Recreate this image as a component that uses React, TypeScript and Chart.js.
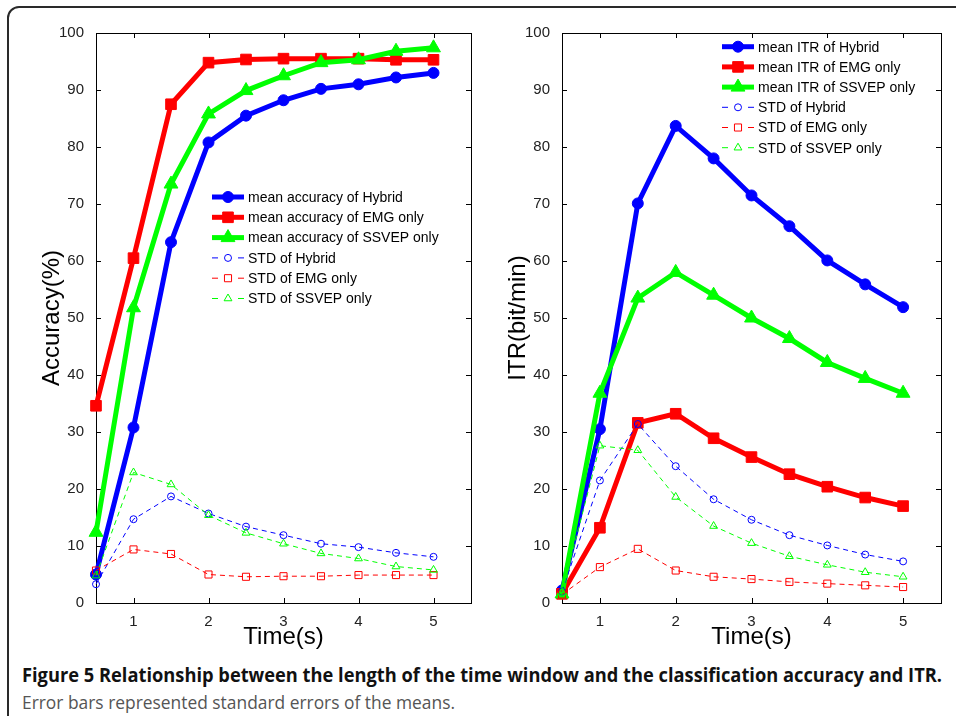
import React, { useEffect, useLayoutEffect, useRef } from 'react';
import { Chart, registerables } from 'chart.js';

Chart.register(...registerables);

// ---------- DATA ----------
const timeWindows = [0.5, 1, 1.5, 2, 2.5, 3, 3.5, 4, 4.5, 5];
const xTickValues = [1, 2, 3, 4, 5];
const yTickValues = [0, 10, 20, 30, 40, 50, 60, 70, 80, 90, 100];

const accHybridMean = [5.0, 30.8, 63.3, 80.8, 85.5, 88.2, 90.2, 91.0, 92.2, 93.0];
const accEmgMean = [34.6, 60.5, 87.5, 94.8, 95.35, 95.5, 95.5, 95.5, 95.3, 95.3];
const accSsvepMean = [12.4, 51.8, 73.5, 85.8, 89.9, 92.5, 94.8, 95.3, 96.8, 97.4];
const accHybridStd = [3.3, 14.7, 18.7, 15.7, 13.4, 11.9, 10.4, 9.8, 8.8, 8.1];
const accEmgStd = [5.7, 9.4, 8.6, 5.0, 4.6, 4.7, 4.7, 4.9, 4.9, 4.9];
const accSsvepStd = [4.8, 22.9, 20.8, 15.4, 12.3, 10.4, 8.7, 7.8, 6.4, 5.8];

const itrHybridMean = [2.2, 30.5, 70.1, 83.7, 78.0, 71.5, 66.1, 60.1, 55.9, 51.9];
const itrEmgMean = [1.6, 13.2, 31.6, 33.2, 28.9, 25.6, 22.6, 20.4, 18.5, 17.0];
const itrSsvepMean = [1.6, 36.8, 53.5, 58.0, 54.0, 50.0, 46.4, 42.2, 39.4, 36.8];
const itrHybridStd = [2.0, 21.5, 31.4, 24.0, 18.2, 14.6, 11.9, 10.1, 8.5, 7.3];
const itrEmgStd = [1.5, 6.3, 9.5, 5.7, 4.6, 4.2, 3.7, 3.4, 3.1, 2.8];
const itrSsvepStd = [1.8, 27.6, 26.8, 18.6, 13.5, 10.5, 8.2, 6.7, 5.4, 4.6];

const accLabels = [
  'mean accuracy of Hybrid',
  'mean accuracy of EMG only',
  'mean accuracy of SSVEP only',
  'STD of Hybrid',
  'STD of EMG only',
  'STD of SSVEP only',
];
const itrLabels = [
  'mean ITR of Hybrid',
  'mean ITR of EMG only',
  'mean ITR of SSVEP only',
  'STD of Hybrid',
  'STD of EMG only',
  'STD of SSVEP only',
];

const captionTitle = 'Figure 5 Relationship between the length of the time window and the classification accuracy and ITR.';
const captionNote = 'Error bars represented standard errors of the means.';

// ---------- STYLE ----------
const FONT = '"Liberation Sans", Arial, Helvetica, sans-serif';
const BLUE = '#0000ff';
const RED = '#ff0000';
const GREEN = '#00ff00';

type Marker = 'circle' | 'rect' | 'triangle';

function drawMarker(ctx: CanvasRenderingContext2D, style: Marker, x: number, y: number, r: number, fill: string | null, stroke: string, lw: number) {
  ctx.beginPath();
  if (style === 'circle') {
    ctx.arc(x, y, r, 0, Math.PI * 2);
  } else if (style === 'rect') {
    const s = r * Math.SQRT1_2;
    ctx.rect(x - s, y - s, 2 * s, 2 * s);
  } else {
    let rad = 0;
    ctx.moveTo(x + Math.sin(rad) * r, y - Math.cos(rad) * r);
    rad += (2 * Math.PI) / 3;
    ctx.lineTo(x + Math.sin(rad) * r, y - Math.cos(rad) * r);
    rad += (2 * Math.PI) / 3;
    ctx.lineTo(x + Math.sin(rad) * r, y - Math.cos(rad) * r);
    ctx.closePath();
  }
  if (fill) {
    ctx.fillStyle = fill;
    ctx.fill();
  }
  ctx.setLineDash([]);
  ctx.lineWidth = lw;
  ctx.strokeStyle = stroke;
  ctx.stroke();
}

const boxPlugin = {
  id: 'matlabBox',
  beforeDatasetsDraw(chart: any) {
    const { ctx, chartArea, scales } = chart;
    const { left, right, top, bottom } = chartArea;
    const tl = 5;
    ctx.save();
    ctx.strokeStyle = '#000';
    ctx.lineWidth = 1;
    ctx.setLineDash([]);
    ctx.strokeRect(Math.round(left) + 0.5, Math.round(top) + 0.5, Math.round(right - left), Math.round(bottom - top));
    ctx.beginPath();
    xTickValues.forEach((v) => {
      const px = Math.round(scales.x.getPixelForValue(v)) + 0.5;
      ctx.moveTo(px, bottom);
      ctx.lineTo(px, bottom - tl);
      ctx.moveTo(px, top);
      ctx.lineTo(px, top + tl);
    });
    yTickValues.forEach((v) => {
      const py = Math.round(scales.y.getPixelForValue(v)) + 0.5;
      ctx.moveTo(left, py);
      ctx.lineTo(left + tl, py);
      ctx.moveTo(right, py);
      ctx.lineTo(right - tl, py);
    });
    ctx.stroke();
    ctx.restore();
  },
};

const legendPlugin = {
  id: 'matlabLegend',
  afterDraw(chart: any, _args: any, opts: any) {
    const { ctx, chartArea } = chart;
    const x0 = chartArea.left + opts.dx;
    const y0 = chartArea.top + opts.dy;
    ctx.save();
    chart.data.datasets.forEach((ds: any, i: number) => {
      const y = y0 + i * opts.row;
      ctx.strokeStyle = ds.borderColor;
      ctx.lineWidth = ds.borderWidth;
      ctx.beginPath();
      if (ds.borderDash && ds.borderDash.length) {
        ctx.moveTo(x0, y);
        ctx.lineTo(x0 + 6, y);
        ctx.moveTo(x0 + 26, y);
        ctx.lineTo(x0 + 32, y);
      } else {
        ctx.moveTo(x0, y);
        ctx.lineTo(x0 + 32, y);
      }
      ctx.stroke();
      const fill = ds.pointBackgroundColor === 'transparent' ? null : ds.pointBackgroundColor;
      drawMarker(ctx, ds.pointStyle, x0 + 16, y, ds.pointRadius, fill, ds.pointBorderColor, ds.pointBorderWidth);
      ctx.fillStyle = '#000';
      ctx.font = `14px ${FONT}`;
      ctx.textBaseline = 'middle';
      ctx.textAlign = 'left';
      ctx.fillText(ds.label, x0 + 36, y + 1);
    });
    ctx.restore();
  },
};

function toPoints(values: number[]) {
  return values.map((v, i) => ({ x: timeWindows[i], y: v }));
}

function meanDs(label: string, values: number[], color: string, style: Marker, r: number, order: number) {
  return {
    label,
    data: toPoints(values),
    borderColor: color,
    backgroundColor: color,
    borderWidth: 5,
    pointStyle: style,
    pointRadius: r,
    pointBackgroundColor: color,
    pointBorderColor: color,
    pointBorderWidth: 1,
    pointHoverRadius: r,
    tension: 0,
    clip: false as any,
    order,
  };
}

function stdDs(label: string, values: number[], color: string, style: Marker, r: number, order: number) {
  return {
    label,
    data: toPoints(values),
    borderColor: color,
    backgroundColor: color,
    borderWidth: 1,
    borderDash: [5, 4],
    pointStyle: style,
    pointRadius: r,
    pointBackgroundColor: 'transparent',
    pointBorderColor: color,
    pointBorderWidth: 1,
    pointHoverRadius: r,
    tension: 0,
    clip: false as any,
    order,
  };
}

function buildDatasets(labels: string[], means: number[][], stds: number[][]) {
  return [
    meanDs(labels[0], means[0], BLUE, 'circle', 5.5, 6),
    meanDs(labels[1], means[1], RED, 'rect', 7.5, 5),
    meanDs(labels[2], means[2], GREEN, 'triangle', 8, 4),
    stdDs(labels[3], stds[0], BLUE, 'circle', 3.5, 3),
    stdDs(labels[4], stds[1], RED, 'rect', 5, 2),
    stdDs(labels[5], stds[2], GREEN, 'triangle', 4.5, 1),
  ];
}

interface PanelProps {
  left: number;
  width: number;
  height: number;
  axisWidth: number;
  padRight: number;
  yTitle: string;
  yTitlePad: number;
  datasets: any[];
  legend: { dx: number; dy: number; row: number };
}

function Panel(p: PanelProps) {
  const ref = useRef<HTMLCanvasElement | null>(null);
  useEffect(() => {
    if (!ref.current) return;
    const chart = new Chart(ref.current, {
      type: 'line',
      data: { datasets: p.datasets },
      plugins: [boxPlugin, legendPlugin],
      options: {
        animation: false,
        responsive: false,
        events: [],
        layout: { padding: { top: 33, right: p.padRight, bottom: 0, left: 0 } },
        plugins: {
          legend: { display: false },
          tooltip: { enabled: false },
          matlabLegend: p.legend,
        } as any,
        scales: {
          x: {
            type: 'linear',
            min: 0.5,
            max: 5.5,
            afterBuildTicks: (s: any) => {
              s.ticks = xTickValues.map((v) => ({ value: v }));
            },
            afterFit: (s: any) => {
              s.height = 57;
            },
            grid: { display: false },
            border: { display: false },
            ticks: { color: '#222', font: { family: FONT, size: 15 }, padding: 2, maxRotation: 0, autoSkip: false },
            title: {
              display: true,
              text: 'Time(s)',
              color: '#000',
              font: { family: FONT, size: 24 },
              padding: { top: 0, bottom: 8.6 },
            },
          },
          y: {
            type: 'linear',
            min: 0,
            max: 100,
            afterBuildTicks: (s: any) => {
              s.ticks = yTickValues.map((v) => ({ value: v }));
            },
            afterFit: (s: any) => {
              s.width = p.axisWidth;
            },
            grid: { display: false },
            border: { display: false },
            ticks: { color: '#222', font: { family: FONT, size: 15 }, padding: 4, autoSkip: false },
            title: {
              display: true,
              text: p.yTitle,
              color: '#000',
              font: { family: FONT, size: 24 },
              padding: { top: p.yTitlePad, bottom: 0 },
            },
          },
        },
      } as any,
    });
    return () => chart.destroy();
  }, []);
  return (
    <canvas
      ref={ref}
      width={p.width}
      height={p.height}
      style={{ position: 'absolute', left: p.left, top: 0, width: p.width, height: p.height }}
    />
  );
}

function FitText(props: { text: string; width: number; style: React.CSSProperties }) {
  const ref = useRef<HTMLSpanElement | null>(null);
  useLayoutEffect(() => {
    const el = ref.current;
    if (!el) return;
    el.style.transform = 'none';
    const w = el.getBoundingClientRect().width;
    if (w > 0) el.style.transform = `scaleX(${props.width / w})`;
  }, []);
  return (
    <span
      ref={ref}
      style={{ ...props.style, display: 'inline-block', whiteSpace: 'nowrap', transformOrigin: '0 0' }}
    >
      {props.text}
    </span>
  );
}

export default function App() {
  return (
    <div
      style={{
        position: 'absolute',
        left: 0,
        top: 0,
        width: 956,
        height: 716,
        overflow: 'hidden',
        background: '#fff',
      }}
    >
      <div
        style={{
          position: 'absolute',
          left: 7,
          top: 6,
          width: 1000,
          height: 800,
          border: '2px solid #2a2a2a',
          borderRadius: 12,
          boxSizing: 'border-box',
        }}
      />
      <Panel
        left={0}
        width={480}
        height={660}
        axisWidth={96}
        padRight={6}
        yTitle="Accuracy(%)"
        yTitlePad={37.6}
        datasets={buildDatasets(accLabels, [accHybridMean, accEmgMean, accSsvepMean], [accHybridStd, accEmgStd, accSsvepStd])}
        legend={{ dx: 116, dy: 164, row: 20.3 }}
      />
      <Panel
        left={480}
        width={476}
        height={660}
        axisWidth={82}
        padRight={15}
        yTitle="ITR(bit/min)"
        yTitlePad={23.6}
        datasets={buildDatasets(itrLabels, [itrHybridMean, itrEmgMean, itrSsvepMean], [itrHybridStd, itrEmgStd, itrSsvepStd])}
        legend={{ dx: 160, dy: 13.7, row: 20.2 }}
      />
      <div style={{ position: 'absolute', left: 22, top: 663, lineHeight: '24px' }}>
        <FitText
          text={captionTitle}
          width={920}
          style={{ fontFamily: '"Open Sans", "Noto Sans", sans-serif', fontWeight: 700, fontSize: 19, color: '#111' }}
        />
      </div>
      <div style={{ position: 'absolute', left: 22, top: 690, lineHeight: '24px' }}>
        <FitText
          text={captionNote}
          width={433}
          style={{ fontFamily: '"Open Sans", "Noto Sans", sans-serif', fontWeight: 400, fontSize: 18, color: '#555' }}
        />
      </div>
    </div>
  );
}
